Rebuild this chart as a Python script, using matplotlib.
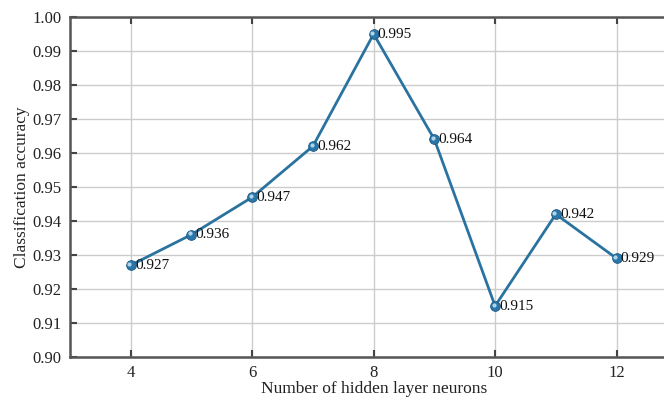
import matplotlib
matplotlib.use("Agg")
import matplotlib.pyplot as plt
from matplotlib.transforms import offset_copy

neurons = [4, 5, 6, 7, 8, 9, 10, 11, 12]
accuracy = [0.927, 0.936, 0.947, 0.962, 0.995, 0.964, 0.915, 0.942, 0.929]
xticks = [4, 6, 8, 10, 12]
yticks = [0.90, 0.91, 0.92, 0.93, 0.94, 0.95, 0.96, 0.97, 0.98, 0.99, 1.00]

plt.rcParams['font.family'] = ['Liberation Serif', 'DejaVu Serif']

fig = plt.figure(figsize=(6.64, 3.99), dpi=100)
ax = fig.add_axes([70/664, 1-357/399, 1.0 - 70/664 + 0.02, (357-17)/399])
ax.set_xlim(3, 13)
ax.set_ylim(0.90, 1.00)

ax.plot(neurons, accuracy, color='#2a73a0', lw=2.0, zorder=3)
ax.plot(neurons, accuracy, 'o', ms=7, mfc='#2a76a8', mec='#1d5a82', mew=0.6, zorder=4)
hl = offset_copy(ax.transData, fig=fig, x=-1.0, y=1.0, units='points')
ax.plot(neurons, accuracy, 'o', ms=3, mfc='#bfe0f3', mec='none', zorder=5,
        alpha=0.9, transform=hl)

for x, y in zip(neurons, accuracy):
    ax.annotate(f"{y:.3f}", (x, y), xytext=(3, 0), textcoords='offset points',
                ha='left', va='center', fontsize=11, color='#111111', zorder=6)

ax.set_xticks(xticks)
ax.set_yticks(yticks)
ax.set_yticklabels([f"{v:.2f}" for v in yticks])
ax.grid(True, color='#cccccc', lw=1.0)
ax.set_axisbelow(True)
ax.tick_params(axis='both', direction='in', length=5, width=1.5, color='#444444',
               labelsize=12, labelcolor='#222222', top=True, right=False)
ax.tick_params(axis='y', pad=6)
ax.tick_params(axis='x', pad=6)
for s in ['left', 'bottom', 'top']:
    ax.spines[s].set_color('#555555')
    ax.spines[s].set_linewidth(1.8)
ax.spines['right'].set_visible(False)

ax.set_xlabel('Number of hidden layer neurons', fontsize=12.5, color='#222222', labelpad=0)
ax.set_ylabel('Classification accuracy', fontsize=12.5, color='#222222', labelpad=2)

fig.savefig('out.png', dpi=100)
